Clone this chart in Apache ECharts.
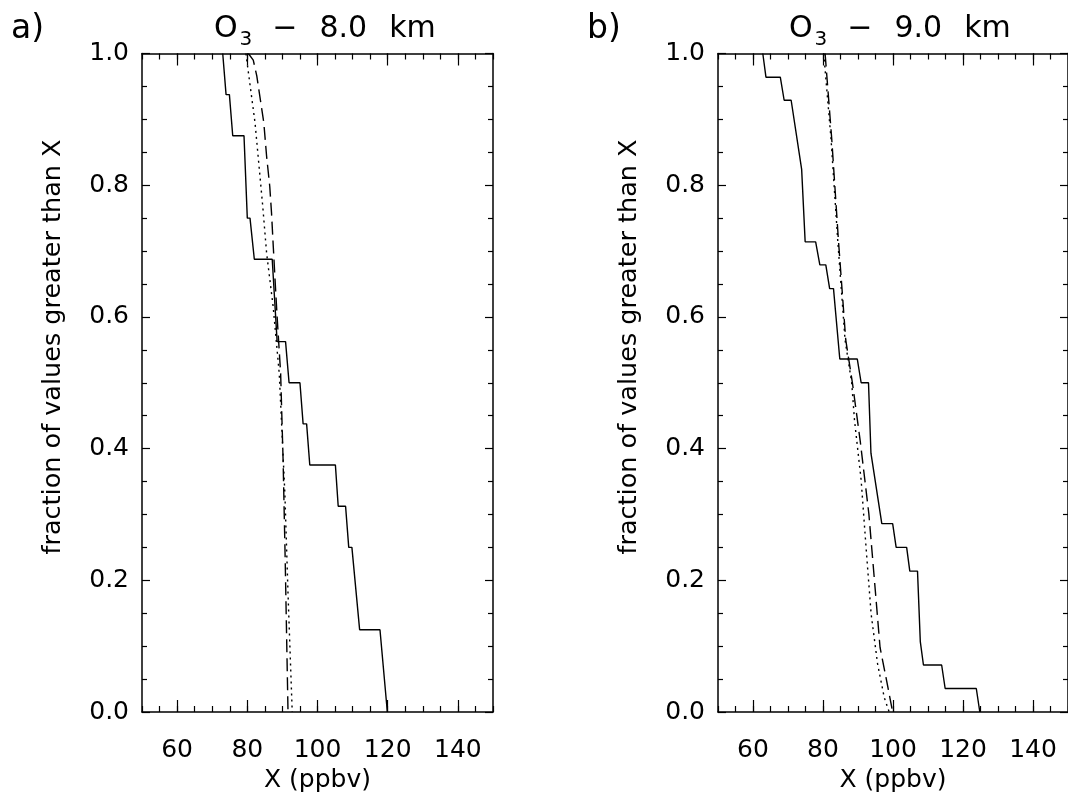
<!DOCTYPE html>
<html>
<head>
<meta charset="utf-8">
<script src="https://cdn.jsdelivr.net/npm/echarts@6/dist/echarts.min.js"></script>
<style>
html,body{margin:0;padding:0;background:#fff;}
#chart{width:1068px;height:798px;}
</style>
</head>
<body>
<div id="chart"></div>
<script>
// ---- data ----
const xMajorTicks = [60, 80, 100, 120, 140];
const yTicks = [0.0, 0.2, 0.4, 0.6, 0.8, 1.0];

// Panel a) O3 - 8.0 km
const aSolidX = [73.0, 73.95, 74.9, 75.85, 79.06, 80.0, 80.77, 82.0, 87.1, 88.5, 90.9, 91.9, 95.0, 95.9, 96.9, 97.8, 105.1, 105.9, 108.0, 108.9, 109.8, 112.0, 117.8, 119.9];
const aSolidY = [1.0, 0.9375, 0.9375, 0.875, 0.875, 0.75, 0.75, 0.6875, 0.6875, 0.5625, 0.5625, 0.5, 0.5, 0.4375, 0.4375, 0.375, 0.375, 0.3125, 0.3125, 0.25, 0.25, 0.125, 0.125, 0.0];
const aDashX = [80.3, 81.7, 82.7, 84.7, 85.5, 86.4, 86.9, 87.4, 87.9, 88.5, 89.5, 90.2, 90.8, 91.6];
const aDashY = [1.0, 0.99, 0.966, 0.895, 0.844, 0.798, 0.758, 0.707, 0.657, 0.6, 0.514, 0.382, 0.23, 0.0];
const aDotX = [79.6, 82.2, 84.4, 85.5, 87.4, 89.1, 90.7, 91.6, 92.8];
const aDotY = [1.0, 0.895, 0.768, 0.697, 0.614, 0.514, 0.332, 0.18, 0.0];

// Panel b) O3 - 9.0 km
const bSolidX = [62.8, 63.7, 67.8, 68.9, 70.9, 73.9, 74.9, 77.9, 79.1, 80.8, 81.9, 83.0, 83.6, 84.8, 89.8, 90.9, 93.0, 93.7, 96.8, 99.9, 100.9, 103.9, 104.8, 107.0, 107.8, 108.7, 113.9, 114.9, 123.8, 124.8];
const bSolidY = [1.0, 0.964, 0.964, 0.929, 0.929, 0.824, 0.714, 0.714, 0.679, 0.679, 0.643, 0.643, 0.607, 0.536, 0.536, 0.5, 0.5, 0.393, 0.286, 0.286, 0.25, 0.25, 0.214, 0.214, 0.107, 0.0714, 0.0714, 0.0357, 0.0357, 0.0];
const bDashX = [80.6, 82.5, 84.4, 86.5, 88.4, 90.6, 93.1, 94.7, 96.3, 98.2, 99.9];
const bDashY = [1.0, 0.87, 0.717, 0.565, 0.5, 0.413, 0.301, 0.2, 0.098, 0.047, 0.0];
const bDotX = [80.2, 82.3, 84.2, 86.3, 88.2, 89.0, 90.9, 92.3, 93.75, 95.6, 97.5, 98.9];
const bDotY = [1.0, 0.87, 0.717, 0.565, 0.5, 0.443, 0.352, 0.25, 0.149, 0.073, 0.022, 0.0];

const titles = ['8.0 km', '9.0 km'];
const panelLabels = ['a)', 'b)'];
const yName = 'fraction of values greater than X';
const xName = 'X (ppbv)';

// ---- build chart ----
const FONT = '"DejaVu Sans", sans-serif';
const zip = (xs, ys) => xs.map((x, i) => [x, ys[i]]);

const grids = [
  { left: 142, top: 53.5, width: 351, height: 658.5 },
  { left: 718, top: 53.5, width: 351, height: 658.5 }
];

const xAxes = [];
const yAxes = [];
grids.forEach((g, gi) => {
  const base = { gridIndex: gi, type: 'value', min: 50, max: 150, splitLine: { show: false } };
  xAxes.push(Object.assign({}, base, {
    position: 'bottom', interval: 10,
    name: xName, nameLocation: 'middle', nameGap: 54,
    nameTextStyle: { fontFamily: FONT, fontSize: 25, color: '#000' },
    axisLine: { show: true, lineStyle: { color: '#000', width: 1.5 } },
    axisTick: { show: true, inside: true, length: 12, customValues: xMajorTicks, lineStyle: { color: '#000', width: 1.2 } },
    axisLabel: { show: true, customValues: xMajorTicks, margin: 26, fontFamily: FONT, fontSize: 25, color: '#000' }
  }));
  xAxes.push(Object.assign({}, base, {
    position: 'bottom', interval: 5,
    axisLine: { show: false },
    axisTick: { show: true, inside: true, length: 6, lineStyle: { color: '#000', width: 1.2 } },
    axisLabel: { show: false }
  }));
  xAxes.push(Object.assign({}, base, {
    position: 'top', interval: 10,
    axisLine: { show: true, lineStyle: { color: '#000', width: 1.5 } },
    axisTick: { show: true, inside: true, length: 12, customValues: xMajorTicks, lineStyle: { color: '#000', width: 1.2 } },
    axisLabel: { show: false }
  }));
  xAxes.push(Object.assign({}, base, {
    position: 'top', interval: 5,
    axisLine: { show: false },
    axisTick: { show: true, inside: true, length: 6, lineStyle: { color: '#000', width: 1.2 } },
    axisLabel: { show: false }
  }));
  const ybase = { gridIndex: gi, type: 'value', min: 0, max: 1, interval: 0.2, splitLine: { show: false },
    axisLine: { show: true, lineStyle: { color: '#000', width: 1.5 } },
    axisTick: { show: true, inside: true, length: 8, lineStyle: { color: '#000', width: 1.2 } },
    minorTick: { show: true, splitNumber: 4, length: 5, lineStyle: { color: '#000', width: 1.2 } } };
  yAxes.push(Object.assign({}, ybase, {
    position: 'left',
    axisLabel: { show: true, margin: 13, fontFamily: FONT, fontSize: 25, color: '#000', formatter: v => v.toFixed(1) }
  }));
  yAxes.push(Object.assign({}, ybase, { position: 'right', axisLabel: { show: false } }));
});

function line(xs, ys, gi, type) {
  return {
    type: 'line', xAxisIndex: gi * 4, yAxisIndex: gi * 2,
    data: zip(xs, ys), showSymbol: false, symbol: 'none', animation: false,
    silent: true, clip: true,
    lineStyle: { color: '#000', width: 1.4, type: type }
  };
}

const titleRich = {
  m: { fontFamily: FONT, fontSize: 30, fontWeight: 'normal', color: '#000', padding: [0, 0, 8, 0] },
  s: { fontFamily: FONT, fontSize: 20, fontWeight: 'normal', color: '#000', padding: [14, 0, 0, 2] },
  d: { fontFamily: FONT, fontSize: 30, fontWeight: 'normal', color: '#000', padding: [0, 22, 8, 20] },
  k: { fontFamily: FONT, fontSize: 30, fontWeight: 'normal', color: '#000', padding: [0, 0, 8, 22] }
};
function titleText(t) {
  const parts = t.split(' ');
  return '{m|O}{s|3}{d|−}{m|' + parts[0] + '}{k|' + parts[1] + '}';
}

const option = {
  animation: false,
  backgroundColor: '#fff',
  title: [
    { text: titleText(titles[0]), left: 209, top: 9, textStyle: { rich: titleRich } },
    { text: titleText(titles[1]), left: 784, top: 9, textStyle: { rich: titleRich } },
    { text: panelLabels[0], left: 6, top: 8, textStyle: { fontFamily: FONT, fontSize: 33, fontWeight: 'normal', color: '#000' } },
    { text: panelLabels[1], left: 582, top: 8, textStyle: { fontFamily: FONT, fontSize: 33, fontWeight: 'normal', color: '#000' } }
  ],
  grid: grids,
  xAxis: xAxes,
  yAxis: yAxes,
  graphic: [
    { type: 'text', x: 53, y: 347, rotation: Math.PI / 2,
      style: { text: yName, font: '25.5px ' + FONT, fill: '#000', align: 'center', verticalAlign: 'middle' } },
    { type: 'text', x: 629, y: 347, rotation: Math.PI / 2,
      style: { text: yName, font: '25.5px ' + FONT, fill: '#000', align: 'center', verticalAlign: 'middle' } }
  ],
  series: [
    line(aSolidX, aSolidY, 0, 'solid'),
    line(aDashX, aDashY, 0, [13, 6]),
    line(aDotX, aDotY, 0, [2, 4]),
    line(bSolidX, bSolidY, 1, 'solid'),
    line(bDashX, bDashY, 1, [13, 6]),
    line(bDotX, bDotY, 1, [2, 4])
  ]
};

const chart = echarts.init(document.getElementById('chart'), null, { renderer: 'canvas' });
chart.setOption(option);
</script>
</body>
</html>
